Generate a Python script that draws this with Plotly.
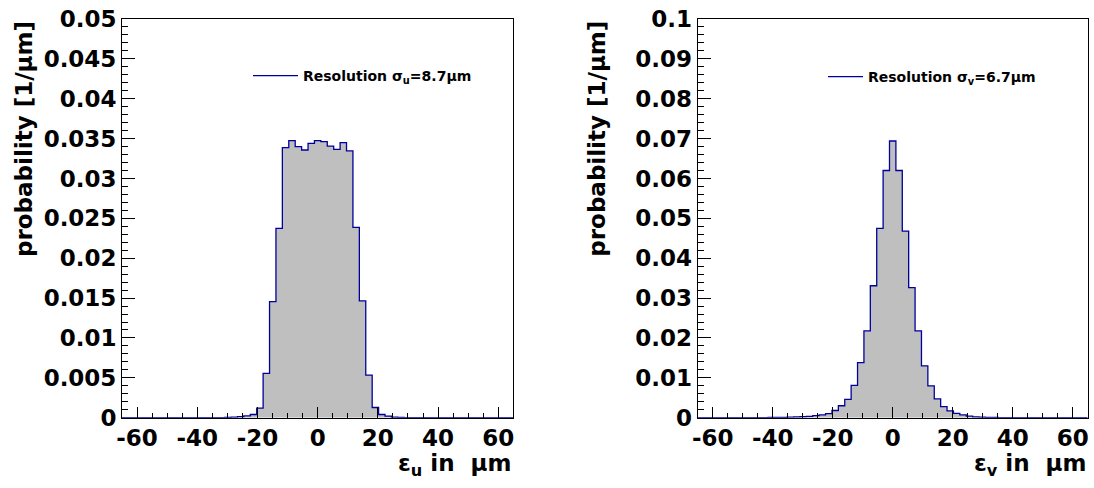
import plotly.graph_objects as go

# Histogram binning (shared by both panels)
X_MIN, X_MAX, N_BINS = -65.0, 65.0, 61

# Normalised residual distributions, one value per bin (1/um)
prob_u = [
    0, 0, 0, 0, 0, 0, 0, 0, 0, 0,
    0, 0, 0, 0, 0, 0, 0.00003, 0.00006, 0.00013, 0.00022,
    0.00040, 0.00120, 0.00557, 0.01455, 0.02375, 0.03386, 0.03474, 0.03399, 0.03357, 0.03441,
    0.03474, 0.03461, 0.03407, 0.03366, 0.03449, 0.03345, 0.02388, 0.01464, 0.00535, 0.00128,
    0.00040, 0.00020, 0.00008, 0.00004, 0.00002, 0.00002, 0.00002, 0.00001, 0, 0,
    0, 0, 0, 0, 0, 0, 0, 0, 0, 0,
    0,
]
prob_v = [
    0, 0, 0, 0, 0, 0, 0, 0, 0.00002, 0.00003,
    0.00004, 0.00005, 0.00007, 0.00010, 0.00014, 0.00020, 0.00027, 0.00035, 0.00050, 0.00070,
    0.00100, 0.00180, 0.00300, 0.00460, 0.00810, 0.01380, 0.02180, 0.03310, 0.04750, 0.06200,
    0.06940, 0.06200, 0.04680, 0.03260, 0.02180, 0.01300, 0.00800, 0.00470, 0.00280, 0.00170,
    0.00110, 0.00070, 0.00040, 0.00022, 0.00012, 0.00007, 0.00005, 0.00003, 0.00002, 0,
    0, 0, 0, 0, 0, 0, 0, 0, 0, 0,
    0,
]

x_tick_vals = [-60, -40, -20, 0, 20, 40, 60]
x_tick_text = ["-60", "-40", "-20", "0", "20", "40", "60"]
y_tick_vals_u = [0, 0.005, 0.01, 0.015, 0.02, 0.025, 0.03, 0.035, 0.04, 0.045, 0.05]
y_tick_text_u = ["0", "0.005", "0.01", "0.015", "0.02", "0.025", "0.03", "0.035", "0.04", "0.045", "0.05"]
y_tick_vals_v = [0, 0.01, 0.02, 0.03, 0.04, 0.05, 0.06, 0.07, 0.08, 0.09, 0.1]
y_tick_text_v = ["0", "0.01", "0.02", "0.03", "0.04", "0.05", "0.06", "0.07", "0.08", "0.09", "0.1"]

legend_u = "Resolution σ<sub>u</sub>=8.7μm"
legend_v = "Resolution σ<sub>v</sub>=6.7μm"
x_title_u = "ε<sub>u</sub> in  μm"
x_title_v = "ε<sub>v</sub> in  μm"
y_title = "probability [1/μm]"

FILL = "#bfbfbf"
LINE = "#00009a"
FONT = "DejaVu Sans"

bin_w = (X_MAX - X_MIN) / N_BINS
edges = [X_MIN + i * bin_w for i in range(N_BINS + 1)]


def step_xy(vals):
    return edges, list(vals) + [vals[-1]]


fig = go.Figure()

for vals, name, xa, ya, leg in [
    (prob_u, legend_u, "x", "y", "legend"),
    (prob_v, legend_v, "x2", "y2", "legend2"),
]:
    sx, sy = step_xy(vals)
    fig.add_trace(go.Scatter(
        x=sx, y=sy, mode="lines", line=dict(shape="hv", width=0, color=FILL),
        fill="tozeroy", fillcolor=FILL, showlegend=False, hoverinfo="skip",
        xaxis=xa, yaxis=ya,
    ))
    fig.add_trace(go.Scatter(
        x=sx, y=sy, mode="lines", line=dict(shape="hv", width=1.3, color=LINE),
        name=name, legend=leg, xaxis=xa, yaxis=ya,
    ))

W, H = 1094, 488
x_dom_u = [122 / W, 513.3 / W]
x_dom_v = [697.7 / W, 1087.7 / W]
y_dom = [1 - 417.7 / H, 1 - 19 / H]

tick_font = dict(family=FONT, size=23, color="black", weight="bold")


def x_axis(domain, anchor):
    return dict(
        domain=domain, anchor=anchor, range=[X_MIN, X_MAX], automargin=False,
        tickvals=x_tick_vals, ticktext=x_tick_text, tickfont=tick_font,
        ticks="inside", ticklen=11, tickwidth=1, tickcolor="black",
        minor=dict(dtick=5, tick0=0, ticks="inside", ticklen=5, tickwidth=1, tickcolor="black"),
        showline=True, linecolor="black", linewidth=1, mirror=True,
        showgrid=False, zeroline=False, fixedrange=True,
    )


def y_axis(domain, anchor, top, vals, text, minor_step):
    return dict(
        domain=domain, anchor=anchor, range=[0, top], automargin=False,
        tickvals=vals, ticktext=text, tickfont=tick_font,
        ticks="inside", ticklen=13, tickwidth=1, tickcolor="black",
        minor=dict(dtick=minor_step, tick0=0, ticks="inside", ticklen=6, tickwidth=1, tickcolor="black"),
        showline=True, linecolor="black", linewidth=1, mirror=True,
        showgrid=False, zeroline=False, fixedrange=True,
    )


legend_common = dict(
    font=dict(family=FONT, size=14, color="black", weight="bold"),
    bgcolor="rgba(0,0,0,0)", borderwidth=0, xanchor="left", yanchor="middle",
)

fig.update_layout(
    width=W, height=H,
    margin=dict(l=0, r=0, t=0, b=0, pad=0, autoexpand=False),
    paper_bgcolor="white", plot_bgcolor="white",
    xaxis=x_axis(x_dom_u, "y"),
    yaxis=y_axis(y_dom, "x", 0.05, y_tick_vals_u, y_tick_text_u, 0.001),
    xaxis2=x_axis(x_dom_v, "y2"),
    yaxis2=y_axis(y_dom, "x2", 0.1, y_tick_vals_v, y_tick_text_v, 0.002),
    legend=dict(x=(305 - 57) / W, y=1 - 76 / H, itemwidth=45, **legend_common),
    legend2=dict(x=(870 - 47) / W, y=1 - 77 / H, itemwidth=35, **legend_common),
)

title_font = dict(family=FONT, size=23, color="black", weight="bold")
for x_right, text in [(513.3 / W, x_title_u), (1087.7 / W, x_title_v)]:
    fig.add_annotation(
        x=x_right, y=1 - 465 / H, xref="paper", yref="paper",
        xanchor="right", yanchor="middle", text=text, showarrow=False, font=title_font,
    )
for x_c in [24 / W, 596.7 / W]:
    fig.add_annotation(
        x=x_c, y=1 - 19 / H, xref="paper", yref="paper", textangle=-90,
        xanchor="center", yanchor="top", text=y_title, showarrow=False, font=title_font,
    )

fig.write_html("out.html")
